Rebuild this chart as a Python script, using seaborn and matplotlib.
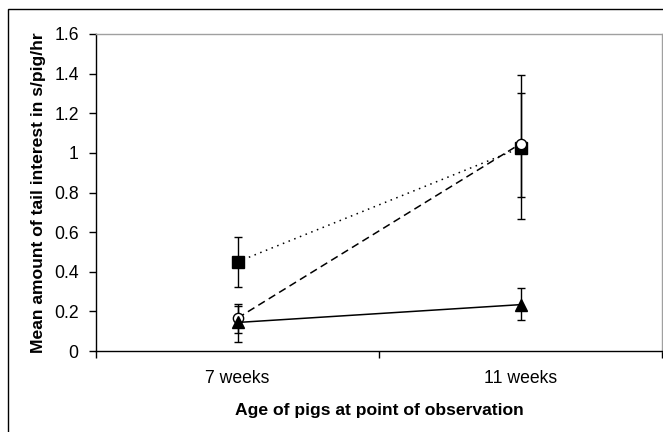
import matplotlib
matplotlib.use("Agg")
import matplotlib.pyplot as plt
from matplotlib.patches import Rectangle
import seaborn as sns
import pandas as pd

ages = ["7 weeks", "11 weeks"]
square_mean = [0.450, 1.025]
square_low = [0.325, 0.779]
square_high = [0.577, 1.300]
circle_mean = [0.166, 1.046]
circle_low = [0.092, 0.664]
circle_high = [0.225, 1.393]
triangle_mean = [0.144, 0.234]
triangle_low = [0.047, 0.157]
triangle_high = [0.239, 0.317]
y_ticks = [0, 0.2, 0.4, 0.6, 0.8, 1, 1.2, 1.4, 1.6]
y_tick_labels = ["0", "0.2", "0.4", "0.6", "0.8", "1", "1.2", "1.4", "1.6"]
x_label = "Age of pigs at point of observation"
y_label = "Mean amount of tail interest in s/pig/hr"

sns.set_theme(style="white")
plt.rcParams["font.family"] = ["Liberation Sans", "DejaVu Sans"]

fig = plt.figure(figsize=(6.63, 4.32), dpi=100)
ax = fig.add_axes([96 / 663, (432 - 351) / 432, (662 - 96) / 663, (351 - 34) / 432])

series = [
    (square_mean, square_low, square_high, "s", "black", (1, 3), 8.0),
    (circle_mean, circle_low, circle_high, "o", "white", (5, 3), 7.4),
    (triangle_mean, triangle_low, triangle_high, "^", "black", "", 8.8),
]
for mean, low, high, mk, fc, dash, ms in series:
    df = pd.DataFrame({"age": ages, "value": mean})
    ax.errorbar(ages, mean,
                yerr=[[m - l for m, l in zip(mean, low)], [h - m for m, h in zip(mean, high)]],
                fmt="none", ecolor="black", elinewidth=1, capsize=3.2, capthick=1, zorder=2)
    sns.lineplot(data=df, x="age", y="value", ax=ax, color="black", lw=1.1,
                 marker=mk, markersize=ms, markerfacecolor=fc, markeredgecolor="black",
                 markeredgewidth=1, zorder=3, legend=False)
    if dash:
        ax.lines[-1].set_dashes(dash)

ax.set_xlim(-0.5, 1.5)
ax.set_ylim(0, 1.6)
ax.set_yticks(y_ticks)
ax.set_yticklabels(y_tick_labels)
ax.set_xticks([0, 1])
ax.set_xticklabels(ages)
ax.set_xticks([-0.5, 0.5, 1.5], minor=True)
ax.tick_params(axis="x", which="major", length=0, pad=14, labelsize=12.7, colors="black")
ax.tick_params(axis="x", which="minor", length=5, width=1, color="black", direction="out", bottom=True)
ax.tick_params(axis="y", which="major", length=5, width=1, color="black", direction="out",
               left=True, pad=7.5, labelsize=12.7, labelcolor="black")
ax.set_xlabel(x_label, fontsize=12.6, fontweight="bold", labelpad=11.5, color="black")
ax.set_ylabel(y_label, fontsize=12.6, fontweight="bold", labelpad=6, color="black")

for s in ["left", "bottom"]:
    ax.spines[s].set_color("black")
    ax.spines[s].set_linewidth(1)
for s in ["top", "right"]:
    ax.spines[s].set_color("#a0a0a0")
    ax.spines[s].set_linewidth(1)
ax.grid(False)

fig.add_artist(Rectangle((7.5 / 663, -0.1), 1.2, (432 - 9.5) / 432 + 0.1,
                         transform=fig.transFigure, fill=False, lw=1, ec="black", clip_on=False))

fig.savefig("out.png", dpi=100)
